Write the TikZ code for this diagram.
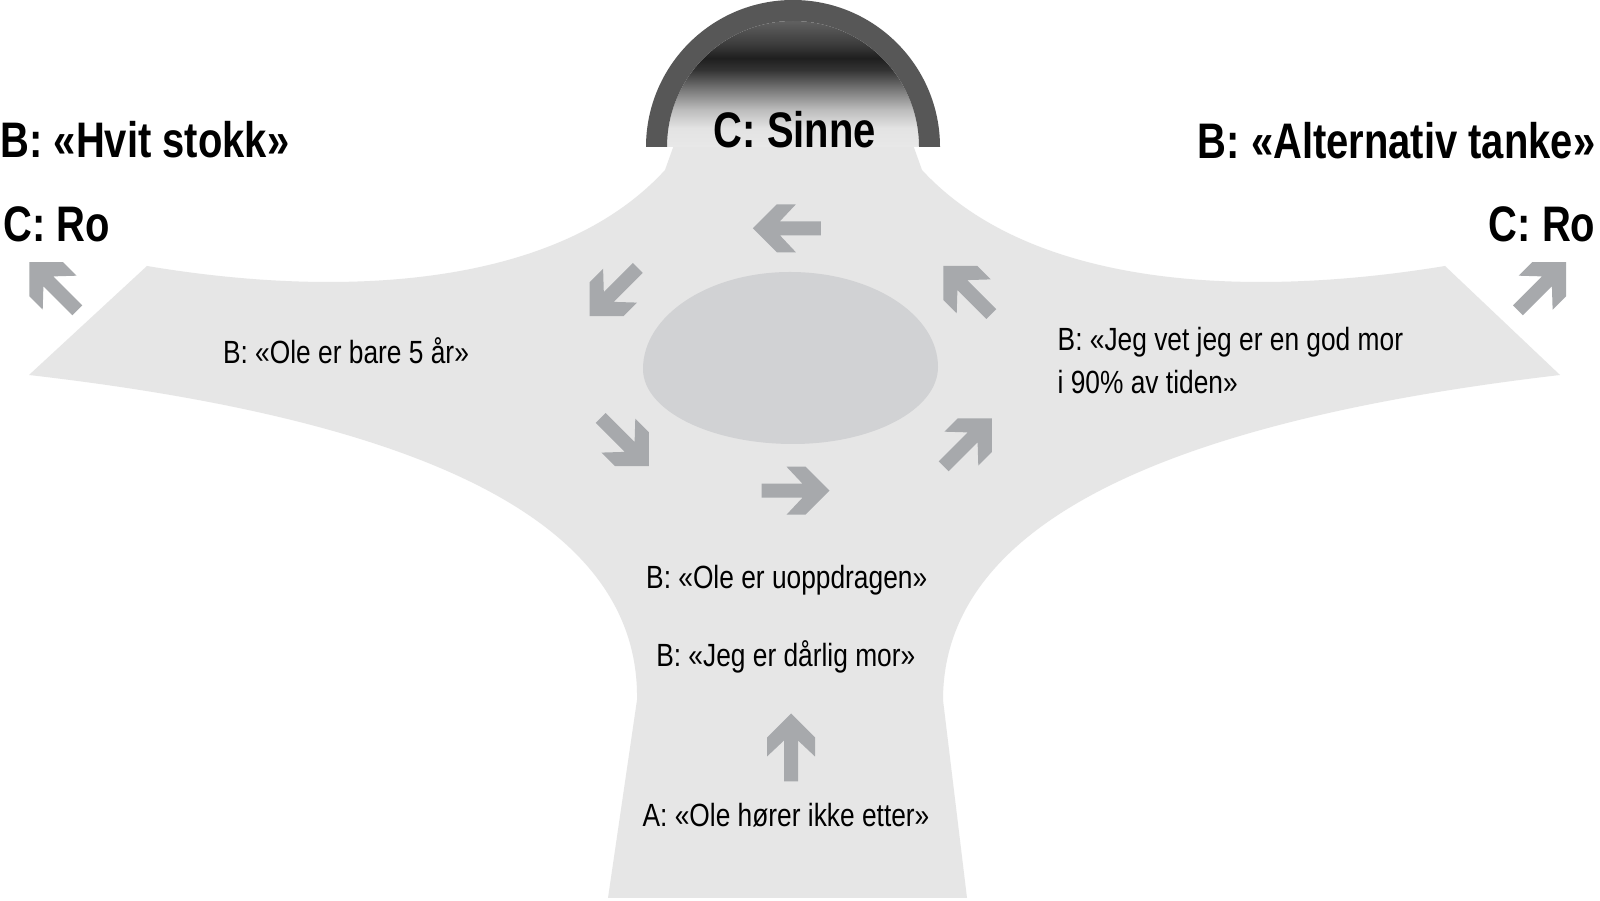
\documentclass[tikz,border=0pt]{standalone}
\usepackage{fontspec}
\setmainfont{Liberation Sans}[FakeStretch=0.82]
\newfontfamily\headfont{Liberation Sans}[FakeStretch=0.8]
\definecolor{roadgray}{HTML}{E6E6E6}
\definecolor{islandgray}{HTML}{D1D2D4}
\definecolor{arrowgray}{HTML}{A7A9AC}
\definecolor{bandgray}{HTML}{575757}
\pgfdeclareverticalshading{sinneglow}{100bp}{rgb(0bp)=(0.91,0.91,0.91); rgb(25bp)=(0.91,0.91,0.91); rgb(32.5bp)=(0.89,0.89,0.89); rgb(39.7bp)=(0.74,0.74,0.74); rgb(47.6bp)=(0.48,0.48,0.48); rgb(55.6bp)=(0.2,0.2,0.2); rgb(60.3bp)=(0.12,0.12,0.12); rgb(65.5bp)=(0.23,0.23,0.23); rgb(75bp)=(0.38,0.38,0.38); rgb(100bp)=(0.38,0.38,0.38)}
\tikzset{
  headtext/.style={font=\headfont\bfseries\fontsize{14.2}{17}\selectfont, inner sep=0pt},
  bodytext/.style={font=\fontsize{9.13}{12.3}\selectfont, inner sep=0pt},
  pics/roadarrow/.style={code={
    \fill[arrowgray] (34,0) -- (10,24) -- (-9,24) -- (7,7) -- (-34,7) -- (-34,-7) -- (7,-7) -- (-9,-24) -- (10,-24) -- cycle;
  }}
}
\begin{document}
\begin{tikzpicture}[x=0.01cm, y=-0.01cm]
  \fill[white] (0,0) rectangle (1600,901);
  \useasboundingbox (0,0) rectangle (1600,901);
  % road
  \fill[roadgray] (608,898) -- (637,700) .. controls (640,520) and (420,420) .. (29,375)
    -- (147,266) .. controls (350,300) and (560,285) .. (665,170) -- (690,100) -- (897,100)
    -- (922,170) .. controls (1028,285) and (1238,300) .. (1445,266)
    -- (1560,375) .. controls (1175,420) and (943,520) .. (943,700) -- (967,898) -- cycle;
  % glow and band
  \shade[shading=sinneglow] (667,147) arc[start angle=180, end angle=360, radius=126] -- cycle;
  \fill[bandgray] (646,147) arc[start angle=180, end angle=360, radius=147]
    -- (919,147) arc[start angle=360, end angle=180, radius=126] -- cycle;
  % island
  \fill[islandgray] (643,369) .. controls (643,315.4) and (708.8,272) .. (790,272)
    .. controls (871.7,272) and (938,314.5) .. (938,367)
    .. controls (938,409.5) and (873.1,444) .. (793,444)
    .. controls (710.2,444) and (643,410.4) .. cycle;
  % arrows
  \foreach \ang/\ax/\ay in {180/786.9/228.3, 225/613.7/292, 135/967.3/290, -45/624.7/442,
      45/967.7/442.3, 0/795.5/490.7, 90/791/747.5, 135/53.3/286.3, 45/1542/286.3}
    \path (\ax,\ay) pic[rotate=\ang] {roadarrow};
  % labels
  \node[headtext, anchor=base] (sinne) at (795,148) {C: Sinne};
  \node[headtext, anchor=base west] (hvitstokk) at (0,158) {B: «Hvit stokk»};
  \node[headtext, anchor=base west] (roleft) at (3,241.7) {C: Ro};
  \node[headtext, anchor=base east] (alternativ) at (1596,159) {B: «Alternativ tanke»};
  \node[headtext, anchor=base east] (roright) at (1596,241.7) {C: Ro};
  \node[bodytext, anchor=base] (bare) at (346,363.3) {B: «Ole er bare 5 år»};
  \node[bodytext, anchor=north west, align=left] (godmor) at (1057,326.5) {B: «Jeg vet jeg er en god mor\\i 90\% av tiden»};
  \node[bodytext, anchor=base] (uoppdragen) at (786.7,588.3) {B: «Ole er uoppdragen»};
  \node[bodytext, anchor=base] (darligmor) at (785.8,666.7) {B: «Jeg er dårlig mor»};
  \node[bodytext, anchor=base] (horerikke) at (786,826.7) {A: «Ole hører ikke etter»};
\end{tikzpicture}
\end{document}
